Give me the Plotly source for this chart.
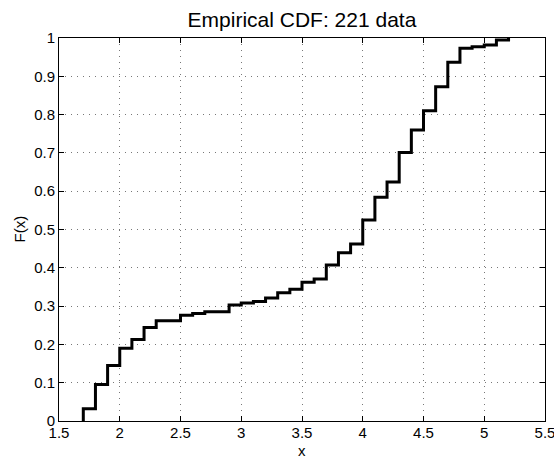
import plotly.graph_objects as go

# Data: jump locations and empirical CDF values
x_jumps = [1.7, 1.8, 1.9, 2.0, 2.1, 2.2, 2.3, 2.5, 2.6, 2.7, 2.9, 3.0, 3.1, 3.2,
           3.3, 3.4, 3.5, 3.6, 3.7, 3.8, 3.9, 4.0, 4.1, 4.2, 4.3, 4.4, 4.5, 4.6,
           4.7, 4.8, 4.9, 5.0, 5.1, 5.2]
F_values = [0.032, 0.095, 0.145, 0.190, 0.213, 0.244, 0.262, 0.276, 0.281, 0.285,
            0.303, 0.308, 0.312, 0.321, 0.335, 0.344, 0.362, 0.371, 0.407, 0.439,
            0.462, 0.525, 0.584, 0.624, 0.701, 0.760, 0.810, 0.873, 0.937, 0.973,
            0.977, 0.982, 0.995, 1.0]

x_ticks = [1.5, 2, 2.5, 3, 3.5, 4, 4.5, 5, 5.5]
x_ticktext = ["1.5", "2", "2.5", "3", "3.5", "4", "4.5", "5", "5.5"]
y_ticks = [0, 0.1, 0.2, 0.3, 0.4, 0.5, 0.6, 0.7, 0.8, 0.9, 1]
y_ticktext = ["0", "0.1", "0.2", "0.3", "0.4", "0.5", "0.6", "0.7", "0.8", "0.9", "1"]

title_text = "Empirical CDF: 221 data"
x_label = "x"
y_label = "F(x)"

FONT = "Liberation Sans, Arial, Helvetica, sans-serif"

xs = [x_jumps[0]] + x_jumps
ys = [0] + F_values

fig = go.Figure()
fig.add_trace(go.Scatter(
    x=xs, y=ys, mode="lines", line=dict(shape="hv", color="black", width=3),
    showlegend=False, hoverinfo="skip",
))

axis_common = dict(
    showline=True, linecolor="black", linewidth=1, mirror="allticks",
    ticks="inside", ticklen=5, tickcolor="black", tickwidth=1,
    showgrid=True, gridcolor="rgb(120,120,120)", gridwidth=1,
    griddash="1px,5px", zeroline=False, ticklabeloverflow="allow",
    automargin=False,
    tickfont=dict(family=FONT, size=15, color="black"),
)

fig.update_layout(
    width=554, height=458,
    margin=dict(l=59, r=9, t=38, b=37, pad=0, autoexpand=False),
    paper_bgcolor="white", plot_bgcolor="white",
    title=dict(text=title_text, x=0.5, xref="paper", xanchor="center",
               y=1 - 20 / 458, yref="container", yanchor="middle",
               automargin=False,
               font=dict(family=FONT, size=21, color="black")),
    xaxis=dict(range=[1.5, 5.5], tickvals=x_ticks, ticktext=x_ticktext,
               ticklabelstandoff=-2, **axis_common),
    yaxis=dict(range=[0, 1], tickvals=y_ticks, ticktext=y_ticktext,
               **axis_common),
    annotations=[
        dict(text=x_label, xref="paper", yref="paper", x=0.5, y=0,
             xanchor="center", yanchor="top", yshift=-19, showarrow=False,
             font=dict(family=FONT, size=15, color="black")),
        dict(text=y_label, xref="paper", yref="paper", x=0, y=0.5,
             xanchor="center", yanchor="middle", xshift=-40, textangle=-90,
             showarrow=False,
             font=dict(family=FONT, size=15, color="black")),
    ],
)

fig.write_html("out.html", config={"displayModeBar": False},
               post_script="document.body.style.margin='0';document.body.style.padding='0';")
